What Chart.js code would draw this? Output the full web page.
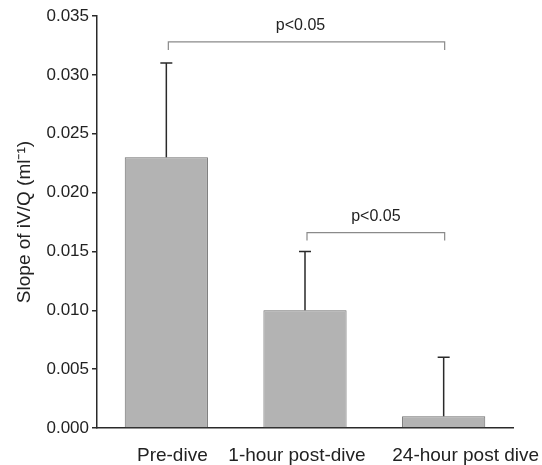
<!DOCTYPE html>
<html>
<head>
<meta charset="utf-8">
<script src="https://cdn.jsdelivr.net/npm/chart.js@4/dist/chart.umd.min.js"></script>
<style>
  html, body { margin: 0; padding: 0; background: #fff; }
  #wrap { width: 542px; height: 465px; }
</style>
</head>
<body>
<div id="wrap"><canvas id="slopeChart" width="542" height="465"></canvas></div>
<script>
const categories = ['Pre-dive', '1-hour post-dive', '24-hour post dive'];
const slopeMeans = [0.023, 0.010, 0.001];
const slopeSD = [0.008, 0.005, 0.005]; // upper whisker only
const bracketPairs = [[0, 2], [1, 2]];
const bracketLevels = [0.0328, 0.0166];
const bracketLabels = ['p<0.05', 'p<0.05'];

const FONT = '"Liberation Sans", Arial, Helvetica, sans-serif';
// category labels in the original are not centred under the bars
const labelShift = [6, -8, 22];

const annotations = {
  id: 'annotations',
  afterDatasetsDraw(chart) {
    const ctx = chart.ctx;
    const x = chart.scales.x, y = chart.scales.y;
    const meta = chart.getDatasetMeta(0);
    ctx.save();

    // error bars
    ctx.strokeStyle = '#2a2a2a';
    ctx.lineWidth = 1.5;
    slopeMeans.forEach((m, i) => {
      const cx = meta.data[i].x;
      const yTop = y.getPixelForValue(m + slopeSD[i]);
      const yBase = y.getPixelForValue(m);
      ctx.beginPath();
      ctx.moveTo(cx, yBase);
      ctx.lineTo(cx, yTop);
      ctx.moveTo(cx - 6, yTop);
      ctx.lineTo(cx + 6, yTop);
      ctx.stroke();
    });

    // brackets
    ctx.strokeStyle = '#8a8a8a';
    ctx.lineWidth = 1.2;
    ctx.fillStyle = '#222';
    ctx.font = '16px ' + FONT;
    ctx.textAlign = 'center';
    ctx.textBaseline = 'alphabetic';
    bracketPairs.forEach((pair, k) => {
      const x1 = x.getPixelForValue(pair[0]) + 2;
      const x2 = x.getPixelForValue(pair[1]) + 1;
      const yb = y.getPixelForValue(bracketLevels[k]);
      ctx.beginPath();
      ctx.moveTo(x1, yb + 8);
      ctx.lineTo(x1, yb);
      ctx.lineTo(x2, yb);
      ctx.lineTo(x2, yb + 8);
      ctx.stroke();
      ctx.fillText(bracketLabels[k], (x1 + x2) / 2 - (k === 0 ? 6 : 0), yb - 12);
    });

    // category labels
    ctx.font = '19px ' + FONT;
    categories.forEach((c, i) => {
      ctx.fillText(c, x.getPixelForValue(i) + labelShift[i], x.bottom - 37 + 33);
    });
    ctx.restore();
  }
};

new Chart(document.getElementById('slopeChart').getContext('2d'), {
  type: 'bar',
  data: {
    labels: categories,
    datasets: [{
      data: slopeMeans,
      backgroundColor: '#b3b3b3',
      borderColor: '#6e6e6e',
      borderWidth: 1,
      barPercentage: 0.6,
      categoryPercentage: 1.0
    }]
  },
  options: {
    responsive: false,
    animation: false,
    layout: { padding: { top: 16, right: 29, left: 0, bottom: 0 } },
    plugins: {
      legend: { display: false },
      tooltip: { enabled: false }
    },
    scales: {
      x: {
        grid: { display: false, drawTicks: false },
        border: { color: '#2a2a2a', width: 1.5 },
        ticks: { display: false },
        afterFit: s => { s.height = 37; }
      },
      y: {
        min: 0,
        max: 0.035,
        grid: { display: true, drawOnChartArea: false, drawTicks: true, tickLength: 5, color: '#2a2a2a', lineWidth: 1.5 },
        border: { color: '#2a2a2a', width: 1.5 },
        ticks: {
          stepSize: 0.005,
          color: '#222',
          font: { family: FONT, size: 17 },
          padding: 3,
          callback: v => Number(v).toFixed(3)
        },
        title: {
          display: true,
          text: 'Slope of iV/Q (ml\u207B\u00B9)',
          color: '#222',
          font: { family: FONT, size: 19 },
          padding: { top: 13, bottom: 0 }
        },
        afterFit: s => { s.width = 97; }
      }
    }
  },
  plugins: [annotations]
});
</script>
</body>
</html>
